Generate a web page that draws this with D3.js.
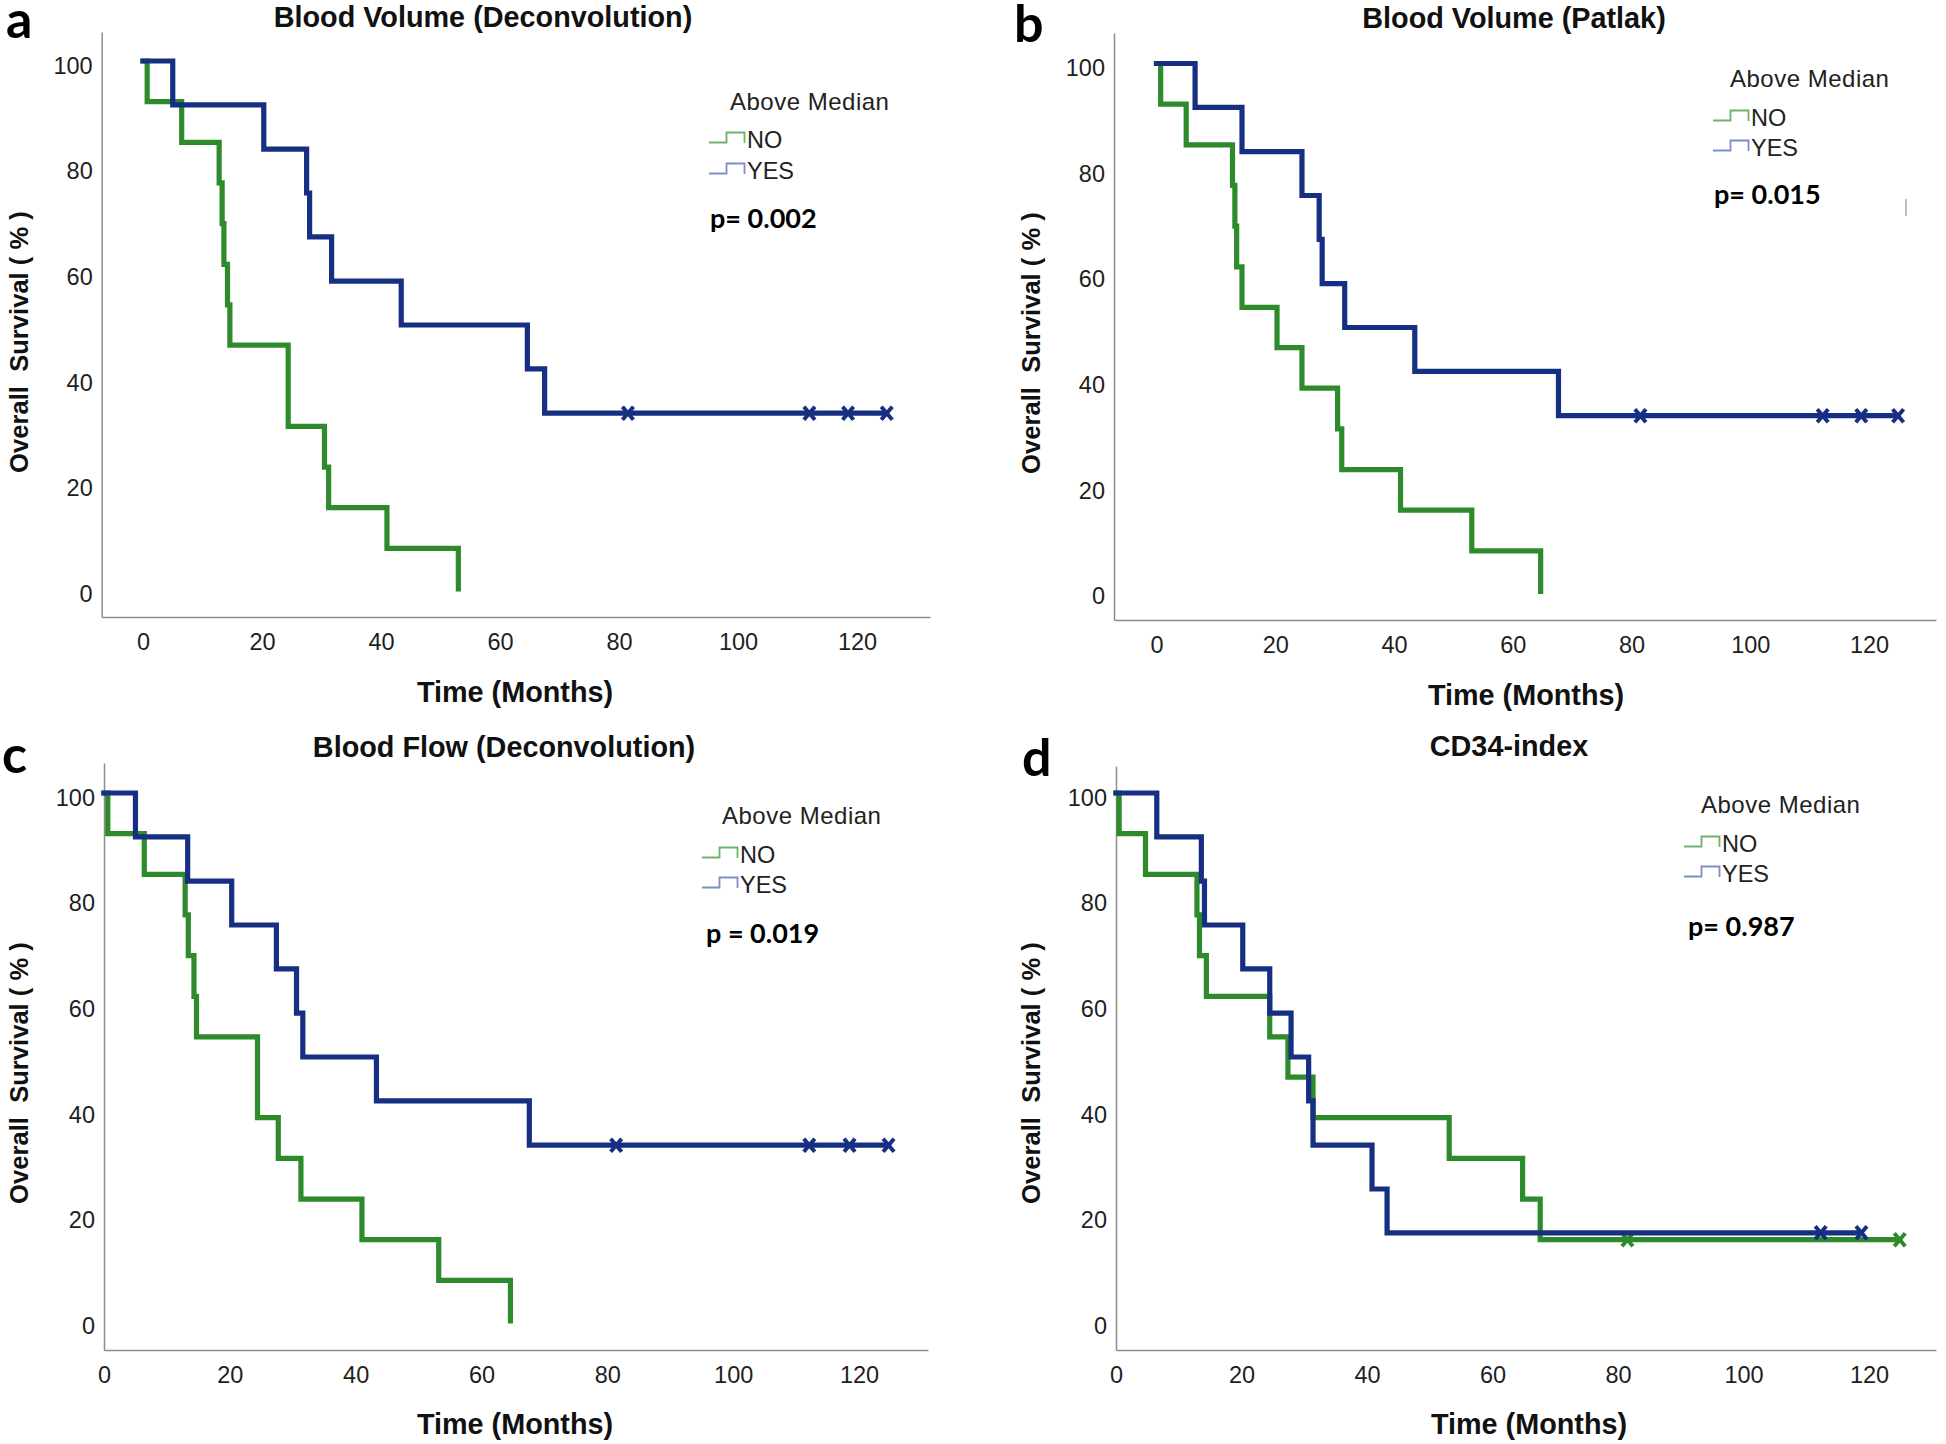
<!DOCTYPE html>
<html><head><meta charset="utf-8">
<script src="https://cdn.jsdelivr.net/npm/d3@7"></script>
<style>
html,body{margin:0;padding:0;background:#fff;}
svg{display:block;}
</style></head>
<body>
<svg id="chart" width="1946" height="1444"></svg>
<script>
// ---------------- DATA ----------------
const panelLetters = ["a", "b", "c", "d"];
const panelTitles = ["Blood Volume (Deconvolution)", "Blood Volume (Patlak)", "Blood Flow (Deconvolution)", "CD34-index"];
const pLabels = ["p= 0.002", "p= 0.015", "p = 0.019", "p= 0.987"];
const legendTitle = "Above Median";
const groupNames = ["NO", "YES"];
const xTicks = [0, 20, 40, 60, 80, 100, 120];
const yTicks = [0, 20, 40, 60, 80, 100];
const xAxisTitle = "Time (Months)";
const yAxisTitle = "Overall  Survival ( % )";

// Panel a
const aNoTimes   = [0, 0.7, 6.5, 12.8, 13.3, 13.6, 14.2, 14.6, 24.4, 30.5, 31.2, 41.0, 53.0];
const aNoSurv    = [100, 92.3, 84.6, 76.9, 69.2, 61.5, 53.8, 46.2, 30.8, 23.1, 15.4, 7.7, 0];
const aNoCensor  = [];
const aYesTimes  = [0, 5.0, 20.3, 27.5, 28.0, 31.7, 43.4, 64.6, 67.5];
const aYesSurv   = [100, 91.7, 83.3, 75.0, 66.7, 58.3, 50.0, 41.7, 33.3];
const aYesCensor = [81.5, 112.0, 118.5, 125.0];
// Panel b
const bNoTimes   = [0, 0.7, 5.0, 12.8, 13.2, 13.5, 14.4, 20.3, 24.5, 30.5, 31.2, 41.1, 53.1, 64.7];
const bNoSurv    = [100, 92.3, 84.6, 76.9, 69.2, 61.5, 53.8, 46.2, 38.5, 30.8, 23.1, 15.4, 7.7, 0];
const bNoCensor  = [];
const bYesTimes  = [0, 6.5, 14.4, 24.5, 27.4, 27.9, 31.7, 43.5, 67.7];
const bYesSurv   = [100, 91.7, 83.3, 75.0, 66.7, 58.3, 50.0, 41.7, 33.3];
const bYesCensor = [81.5, 112.2, 118.7, 124.9];
// Panel c
const cNoTimes   = [0, 0.6, 6.4, 12.9, 13.4, 14.3, 14.7, 24.4, 27.7, 31.3, 41.0, 53.2, 64.6];
const cNoSurv    = [100, 92.3, 84.6, 76.9, 69.2, 61.5, 53.8, 38.5, 30.8, 23.1, 15.4, 7.7, 0];
const cNoCensor  = [];
const cYesTimes  = [0, 5.0, 13.3, 20.3, 27.4, 30.6, 31.6, 43.3, 67.6];
const cYesSurv   = [100, 91.7, 83.3, 75.0, 66.7, 58.3, 50.0, 41.7, 33.3];
const cYesCensor = [81.4, 112.1, 118.5, 124.7];
// Panel d
const dNoTimes   = [0, 0.5, 4.7, 12.9, 13.3, 14.4, 24.5, 27.4, 31.4, 53.1, 64.8, 67.6];
const dNoSurv    = [100, 92.3, 84.6, 76.9, 69.2, 61.5, 53.8, 46.2, 38.5, 30.8, 23.1, 15.4];
const dNoCensor  = [81.5, 124.9];
const dYesTimes  = [0, 6.5, 13.6, 14.1, 20.2, 24.5, 27.9, 30.7, 31.4, 40.8, 43.2];
const dYesSurv   = [100, 91.7, 83.3, 75.0, 66.7, 58.3, 50.0, 41.7, 33.3, 25.0, 16.7];
const dYesCensor = [112.3, 118.8];

const series = [
  [{t: aNoTimes, s: aNoSurv, c: aNoCensor}, {t: aYesTimes, s: aYesSurv, c: aYesCensor}],
  [{t: bNoTimes, s: bNoSurv, c: bNoCensor}, {t: bYesTimes, s: bYesSurv, c: bYesCensor}],
  [{t: cNoTimes, s: cNoSurv, c: cNoCensor}, {t: cYesTimes, s: cYesSurv, c: cYesCensor}],
  [{t: dNoTimes, s: dNoSurv, c: dNoCensor}, {t: dYesTimes, s: dYesSurv, c: dYesCensor}]
];

// ---------------- LAYOUT / STYLE ----------------
const lineColors = ["#2e8b2c", "#172f82"];   // NO, YES
const legendColors = ["#6cb36a", "#7d8dc6"];
const layout = [
  {yAxisX: 101.7, top: 32, bottom: 617, right: 930, x0: 143, x120: 857, y100: 61, y0: 589,
   letterX: 6, letterY: 38, titleX: 483, titleY: 27, ytX: 19, ytY: 342, xtX: 515, xtY: 702,
   symX: 709, amX: 730, amY: 101.7, noY: 140, yesY: 171, pX: 710, pY: 218},
  {yAxisX: 1114, top: 33, bottom: 620, right: 1936, x0: 1156.5, x120: 1869, y100: 63.5, y0: 591.5,
   letterX: 1014, letterY: 42, titleX: 1514, titleY: 28, ytX: 1031, ytY: 343, xtX: 1526, xtY: 705,
   symX: 1713, amX: 1730, amY: 78, noY: 118, yesY: 148, pX: 1714, pY: 194},
  {yAxisX: 104, top: 763, bottom: 1350, right: 928, x0: 104, x120: 859, y100: 793, y0: 1321,
   letterX: 2, letterY: 773, titleX: 504, titleY: 757, ytX: 19, ytY: 1073, xtX: 515, xtY: 1434,
   symX: 702, amX: 722, amY: 815, noY: 855, yesY: 885, pX: 706, pY: 933},
  {yAxisX: 1116, top: 766, bottom: 1350, right: 1936, x0: 1116, x120: 1869, y100: 793, y0: 1321,
   letterX: 1022, letterY: 776, titleX: 1509, titleY: 756, ytX: 1031, ytY: 1073, xtX: 1529, xtY: 1434,
   symX: 1684, amX: 1701, amY: 804, noY: 844, yesY: 874, pX: 1688, pY: 926}
];

const svg = d3.select("#chart");
svg.append("rect").attr("width", 1946).attr("height", 1444).attr("fill", "#fff");

const sans = "'Liberation Sans', Arial, Helvetica, sans-serif";
const calib = "Lato, 'Open Sans', sans-serif";

function levelAt(times, surv, t) {
  let v = surv[0];
  for (let i = 0; i < times.length; i++) if (times[i] <= t) v = surv[i];
  return v;
}

layout.forEach((L, pi) => {
  const g = svg.append("g");
  const xSlope = (L.x120 - L.x0) / 120;
  const x = d3.scaleLinear()
    .domain([(L.yAxisX - L.x0) / xSlope, (L.right - L.x0) / xSlope])
    .range([L.yAxisX, L.right]);
  const ySlope = (L.y0 - L.y100) / 100;
  const y = d3.scaleLinear()
    .domain([(L.y0 - L.bottom) / ySlope, (L.y0 - L.top) / ySlope])
    .range([L.bottom, L.top]);

  // axes
  const xAxis = g.append("g").attr("transform", `translate(0,${L.bottom})`)
    .call(d3.axisBottom(x).tickValues(xTicks).tickSize(0).tickSizeOuter(0).tickPadding(16));
  const yAxis = g.append("g").attr("transform", `translate(${L.yAxisX},0)`)
    .call(d3.axisLeft(y).tickValues(yTicks).tickSize(0).tickSizeOuter(0).tickPadding(9));
  [xAxis, yAxis].forEach(ax => {
    ax.select(".domain").attr("stroke", "#8c8c8c").attr("stroke-width", 1.5);
    ax.selectAll("text").attr("font-family", sans).attr("font-size", 23.5).attr("fill", "#1e1e1e");
  });
  yAxis.selectAll("text").attr("dy", "0.52em");

  // survival curves
  const stepLine = d3.line().x(d => x(d[0])).y(d => y(d[1])).curve(d3.curveStepAfter);
  series[pi].forEach((sr, gi) => {
    const pts = sr.t.map((t, i) => [t, sr.s[i]]);
    const lastCensor = sr.c.length ? d3.max(sr.c) : null;
    if (lastCensor !== null && lastCensor > sr.t[sr.t.length - 1]) {
      pts.push([lastCensor, sr.s[sr.s.length - 1]]);
    }
    g.append("path").attr("d", stepLine(pts)).attr("fill", "none")
      .attr("stroke", lineColors[gi]).attr("stroke-width", 5.2)
      .attr("stroke-linejoin", "miter").attr("stroke-linecap", "square");
    g.selectAll(null).data(sr.c).enter().append("path")
      .attr("transform", d => `translate(${x(d)},${y(levelAt(sr.t, sr.s, d))})`)
      .attr("d", "M-5.5,-6.5L5.5,6.5M-5.5,6.5L5.5,-6.5")
      .attr("stroke", lineColors[gi]).attr("stroke-width", 4).attr("fill", "none");
  });

  // panel letter
  g.append("text").attr("x", L.letterX).attr("y", L.letterY).text(panelLetters[pi])
    .attr("font-family", calib).attr("font-weight", 700).attr("font-size", 52).attr("fill", "#000");
  // title
  g.append("text").attr("x", L.titleX).attr("y", L.titleY).text(panelTitles[pi])
    .attr("text-anchor", "middle").attr("font-family", sans).attr("font-weight", 700)
    .attr("font-size", 28.8).attr("fill", "#111");
  // axis titles
  g.append("text").attr("x", L.xtX).attr("y", L.xtY).text(xAxisTitle)
    .attr("text-anchor", "middle").attr("font-family", sans).attr("font-weight", 700)
    .attr("font-size", 28.8).attr("fill", "#111");
  g.append("text").attr("transform", `translate(${L.ytX},${L.ytY}) rotate(-90)`).text(yAxisTitle)
    .attr("text-anchor", "middle").attr("dominant-baseline", "central").attr("font-family", sans)
    .attr("font-weight", 700).attr("font-size", 25.6).attr("fill", "#111").style("white-space", "pre");

  // legend
  g.append("text").attr("x", L.amX).attr("y", L.amY).attr("dy", "0.36em").text(legendTitle)
    .attr("font-family", sans).attr("font-size", 24).attr("letter-spacing", 0.5).attr("fill", "#222");
  [L.noY, L.yesY].forEach((cy, gi) => {
    const sx = L.symX;
    g.append("path")
      .attr("d", `M${sx},${cy + 2.5}H${sx + 17.5}V${cy - 7.5}H${sx + 35.5}V${cy + 3}`)
      .attr("fill", "none").attr("stroke", legendColors[gi]).attr("stroke-width", 1.8);
    g.append("text").attr("x", sx + 38).attr("y", cy).attr("dy", "0.36em").text(groupNames[gi])
      .attr("font-family", sans).attr("font-size", 23.5).attr("fill", "#222");
  });
  g.append("text").attr("x", L.pX).attr("y", L.pY).attr("dy", "0.36em").text(pLabels[pi])
    .attr("font-family", calib).attr("font-weight", 700).attr("font-size", 27).attr("fill", "#000")
    .style("white-space", "pre");
});

// small stray gray tick in panel b (present in the original figure)
svg.append("line").attr("x1", 1906).attr("x2", 1906).attr("y1", 199).attr("y2", 216)
  .attr("stroke", "#aaa").attr("stroke-width", 1.5);
</script>
</body></html>
